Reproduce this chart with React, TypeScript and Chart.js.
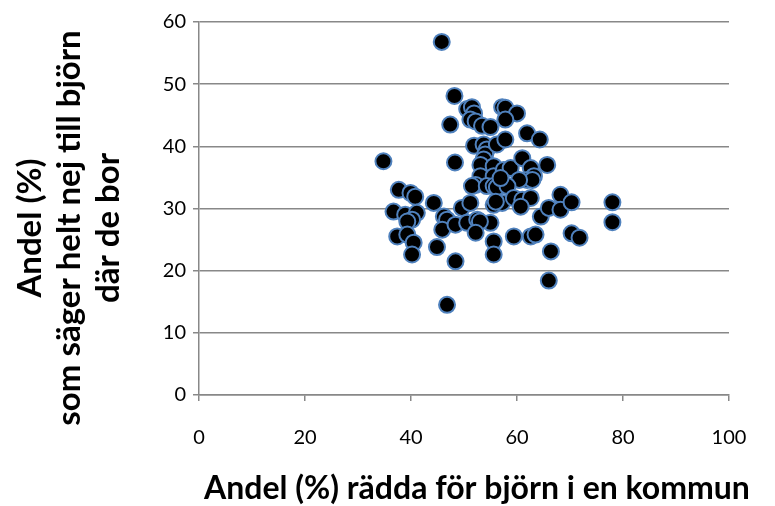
import React, { useEffect, useRef } from "react";
import { Chart, registerables } from "chart.js";

Chart.register(...registerables);

const xValues: number[] = [
  45.8, 48.2, 47.4, 48.3, 34.8, 46.8, 48.4, 44.9, 44.3, 46.2, 46.8, 45.9, 48.4, 49.6, 50.6,
  37.7, 39.9, 40.8, 36.7, 38.9, 41.1, 40.2, 39.3, 37.4, 39.3, 40.5, 40.2,
  50.6, 51.5, 51.9, 51.2, 52.2, 53.4, 55.0, 57.2, 57.8, 60.0, 57.8, 61.9, 64.3,
  51.9, 53.7, 54.3, 54.0, 53.7, 56.2, 57.8, 53.1, 55.6, 53.1, 55.6, 57.5, 58.8, 61.0, 62.6,
  63.2, 65.7, 61.9, 62.9, 60.4, 52.2, 51.5, 54.3, 55.6, 56.2, 58.2, 56.9,
  51.2, 55.6, 57.2, 56.0, 59.4, 61.0, 62.6, 60.7, 64.5, 66.0, 52.5, 55.0, 53.0, 52.2,
  55.6, 55.6, 59.4, 62.6, 63.5, 66.4, 66.0,
  68.2, 68.2, 70.3, 70.3, 71.8, 78.0, 78.0,
];

const yValues: number[] = [
  56.8, 48.1, 43.5, 37.4, 37.6, 14.5, 21.5, 23.8, 30.9, 28.7, 28.2, 26.6, 27.4, 30.1, 27.7,
  33.0, 32.5, 31.9, 29.5, 29.0, 29.3, 28.2, 27.9, 25.5, 25.8, 24.5, 22.6,
  46.0, 46.3, 45.3, 44.3, 44.0, 43.3, 43.1, 46.3, 46.2, 45.3, 44.3, 42.1, 41.1,
  40.1, 40.3, 39.5, 38.7, 37.9, 40.3, 41.1, 37.0, 36.8, 35.2, 35.2, 36.2, 36.5, 38.1, 36.5,
  35.2, 37.0, 34.6, 34.6, 34.6, 33.8, 33.6, 33.6, 33.6, 33.4, 33.6, 34.9,
  30.9, 30.6, 30.9, 31.1, 31.7, 31.4, 31.7, 30.3, 28.7, 30.1, 28.2, 27.7, 27.9, 26.1,
  24.7, 22.6, 25.5, 25.5, 25.8, 23.1, 18.4,
  32.2, 29.8, 31.0, 26.0, 25.3, 31.0, 27.8,
];

const xTitle = "Andel (%) rädda för björn i en kommun";
const yTitle = ["Andel (%)", "som säger helt nej till björn", "där de bor"];

const FONT = "Lato, 'Liberation Sans', sans-serif";

const titlePlugin = {
  id: "axisTitles",
  afterDraw(chart: any) {
    const ctx = chart.ctx as CanvasRenderingContext2D;
    ctx.save();
    ctx.fillStyle = "#000";
    ctx.font = `bold 32px ${FONT}`;
    ctx.textAlign = "center";
    ctx.textBaseline = "middle";
    ctx.fillText(xTitle, 477, 489);
    ctx.font = `bold 33px ${FONT}`;
    ctx.translate(0, 228);
    ctx.rotate(-Math.PI / 2);
    const xs = [30, 69, 108];
    yTitle.forEach((line, i) => {
      ctx.fillText(line, 0, xs[i]);
    });
    ctx.restore();
  },
};

export default function App() {
  const ref = useRef<HTMLCanvasElement | null>(null);
  useEffect(() => {
    if (!ref.current) return;
    const data = xValues.map((x, i) => ({ x, y: yValues[i] }));
    const chart = new Chart(ref.current, {
      type: "scatter",
      data: {
        datasets: [
          {
            data,
            backgroundColor: "#000000",
            borderColor: "#4F81BD",
            borderWidth: 2,
            pointRadius: 8,
          },
        ],
      },
      plugins: [titlePlugin],
      options: {
        animation: false,
        responsive: false,
        maintainAspectRatio: false,
        layout: { padding: { left: 0, right: 46, top: 22, bottom: 0 } },
        plugins: { legend: { display: false }, tooltip: { enabled: false } },
        scales: {
          x: {
            type: "linear",
            min: 0,
            max: 100,
            afterFit: (s: any) => {
              s.height = 111;
            },
            ticks: { stepSize: 20, color: "#000", font: { family: FONT, size: 20 }, padding: 25 },
            grid: { display: true, drawOnChartArea: false, drawTicks: true, tickLength: 6, color: "#888", lineWidth: 1.5 },
            border: { display: true, color: "#888", width: 1.5 },
          },
          y: {
            type: "linear",
            min: 0,
            max: 60,
            afterFit: (s: any) => {
              s.width = 199;
            },
            ticks: { stepSize: 10, color: "#000", font: { family: FONT, size: 20 }, padding: 7 },
            grid: { display: true, drawOnChartArea: true, drawTicks: true, tickLength: 6, color: "#888", lineWidth: 1.5 },
            border: { display: true, color: "#888", width: 1.5 },
          },
        },
      },
    });
    return () => chart.destroy();
  }, []);
  return (
    <div style={{ position: "fixed", left: 0, top: 0, width: 775, height: 506, background: "#fff" }}>
      <canvas ref={ref} width={775} height={506} style={{ width: 775, height: 506 }} />
    </div>
  );
}
